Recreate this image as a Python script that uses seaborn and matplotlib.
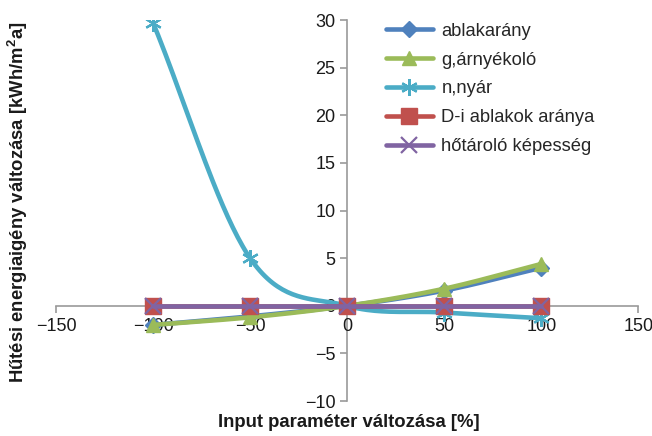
import numpy as np
import pandas as pd
import seaborn as sns
import matplotlib.pyplot as plt
from matplotlib.lines import Line2D

# adatok
x_vals = [-100, -50, 0, 50, 100]
ablakarany = [-2.0, -1.1, 0.0, 1.6, 4.0]
arnyekolo = [-2.0, -1.2, 0.0, 1.8, 4.4]
nyar = [29.7, 5.0, 0.0, -0.7, -1.3]
d_ablak = [0.0, 0.0, 0.0, 0.0, 0.0]
hotarolo = [0.0, 0.0, 0.0, 0.0, 0.0]

series_names = ['ablakarány', 'g,árnyékoló', 'n,nyár', 'D-i ablakok aránya', 'hőtároló képesség']
series_vals = [ablakarany, arnyekolo, nyar, d_ablak, hotarolo]
colors = ['#4F81BD', '#9BBB59', '#4BACC6', '#C0504D', '#8064A2']
markers = ['D', '^', (6, 2, 0), 's', 'x']
msizes = [8, 10, 12, 11, 11]


def smooth(x, y, n=40):
    # Catmull-Rom, hogy hasonlitson az Excel simitott vonalara
    x = np.asarray(x, float)
    y = np.asarray(y, float)
    px = np.concatenate([[2 * x[0] - x[1]], x, [2 * x[-1] - x[-2]]])
    py = np.concatenate([[2 * y[0] - y[1]], y, [2 * y[-1] - y[-2]]])
    ox, oy = [], []
    t = np.linspace(0, 1, n)
    for i in range(1, len(px) - 2):
        for p, o in ((px, ox), (py, oy)):
            p0, p1, p2, p3 = p[i - 1], p[i], p[i + 1], p[i + 2]
            o.extend(0.5 * (2 * p1 + (-p0 + p2) * t + (2 * p0 - 5 * p1 + 4 * p2 - p3) * t ** 2
                            + (-p0 + 3 * p1 - 3 * p2 + p3) * t ** 3))
    return np.array(ox), np.array(oy)


sns.set_style('white')
plt.rcParams['font.family'] = ['Liberation Sans', 'DejaVu Sans']
plt.rcParams['mathtext.fontset'] = 'custom'
plt.rcParams['mathtext.bf'] = 'Liberation Sans:bold'
plt.rcParams['mathtext.rm'] = 'Liberation Sans'

fig = plt.figure(figsize=(6.52, 4.36), dpi=100)
ax = fig.add_axes([0.086, 0.080, 0.893, 0.874])

handles = []
for name, vals, c, m, ms in zip(series_names, series_vals, colors, markers, msizes):
    sx, sy = smooth(x_vals, vals)
    df = pd.DataFrame({'x': sx, 'y': sy})
    sns.lineplot(data=df, x='x', y='y', color=c, lw=3.3, ax=ax, sort=False, estimator=None)
    mew = 1.6 if m in ('x',) or isinstance(m, tuple) else 1
    ax.plot(x_vals, vals, ls='none', marker=m, color=c, ms=ms, mew=mew)
    handles.append(Line2D([], [], color=c, lw=3.3, marker=m, ms=ms, mew=mew))

ax.set_xlim(-150, 150)
ax.set_ylim(-10, 30)
ax.set_xticks([-150, -100, -50, 0, 50, 100, 150])
ax.set_yticks([-10, -5, 0, 5, 10, 15, 20, 25, 30])
ax.set_xticklabels(['\u2212150', '\u2212100', '\u221250', '0', '50', '100', '150'])
ax.set_yticklabels(['\u221210', '\u22125', '0', '5', '10', '15', '20', '25', '30'])

for s in ['right', 'top']:
    ax.spines[s].set_visible(False)
ax.spines['left'].set_position(('data', 0))
ax.spines['bottom'].set_position(('data', 0))
for s in ['left', 'bottom']:
    ax.spines[s].set_color('#9A9A9A')
    ax.spines[s].set_linewidth(1.2)
    ax.spines[s].set_zorder(0)
ax.tick_params(axis='both', direction='out', length=5, width=1.2, color='#9A9A9A',
               labelsize=13, labelcolor='#1a1a1a', left=True, bottom=True)
ax.set_xlabel('')
ax.set_ylabel('')

fig.text(0.535, 0.030, 'Input paraméter változása [%]', ha='center', va='center',
         fontsize=13.3, fontweight='bold', color='#1a1a1a')
fig.text(0.028, 0.537, 'Hűtési energiaigény változása [kWh/m$^\\mathbf{2}$a]', ha='center', va='center',
         rotation=90, fontsize=13.3, fontweight='bold', color='#1a1a1a')

ax.legend(handles, series_names, loc='upper left', bbox_to_anchor=(0.566, 0.986),
          bbox_transform=fig.transFigure, frameon=False,
          fontsize=13.2, handlelength=2.6, labelspacing=0.65, handletextpad=0.45, numpoints=1)

fig.savefig('out.png', dpi=100)
